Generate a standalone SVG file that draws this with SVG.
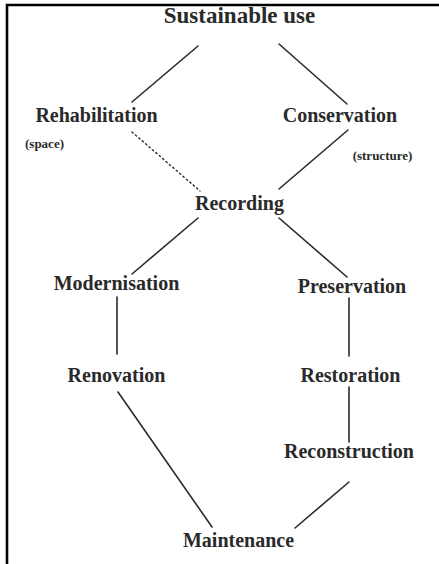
<svg xmlns="http://www.w3.org/2000/svg" width="439" height="564" viewBox="0 0 439 564">
<style>
text{font-family:"Liberation Serif","Times New Roman",serif;font-weight:bold;fill:#2a2a2a;text-anchor:middle}
.lbl{font-size:20px}
.title{font-size:23px}
.note{font-size:13px}
.c line{stroke:#2a2a2a;stroke-width:1.6;stroke-linecap:round}
.c .dot{stroke-width:1.4;stroke-dasharray:1.5 3}
</style>
<rect width="439" height="564" fill="#ffffff"/>
<path d="M7,564 V5 H439" fill="none" stroke="#000" stroke-width="2.6"/>
<g class="c" id="connectors">
<line x1="198" y1="46" x2="132" y2="102"/>
<line x1="279" y1="44" x2="347" y2="104"/>
<line class="dot" x1="132" y1="132" x2="200" y2="191"/>
<line x1="348" y1="130" x2="279" y2="189"/>
<line x1="198" y1="218" x2="132" y2="274"/>
<line x1="279" y1="218" x2="347" y2="277"/>
<line x1="117" y1="297" x2="117" y2="354"/>
<line x1="349" y1="298" x2="349" y2="356"/>
<line x1="118" y1="392" x2="212" y2="527"/>
<line x1="349" y1="387" x2="349" y2="442"/>
<line x1="349" y1="482" x2="295" y2="528"/>
</g>
<g id="sustainable-use"><text class="title" x="239.5" y="23">Sustainable use</text></g>
<g id="rehabilitation"><text class="lbl" x="96.5" y="122">Rehabilitation</text></g>
<g id="space"><text class="note" x="44.5" y="148">(space)</text></g>
<g id="conservation"><text class="lbl" x="340" y="122">Conservation</text></g>
<g id="structure"><text class="note" x="382.5" y="160">(structure)</text></g>
<g id="recording"><text class="lbl" x="239.5" y="210">Recording</text></g>
<g id="modernisation"><text class="lbl" x="116.5" y="290">Modernisation</text></g>
<g id="preservation"><text class="lbl" x="352" y="293">Preservation</text></g>
<g id="renovation"><text class="lbl" x="116.5" y="382">Renovation</text></g>
<g id="restoration"><text class="lbl" x="350.5" y="382">Restoration</text></g>
<g id="reconstruction"><text class="lbl" x="349" y="458">Reconstruction</text></g>
<g id="maintenance"><text class="lbl" x="238.5" y="547">Maintenance</text></g>
</svg>
